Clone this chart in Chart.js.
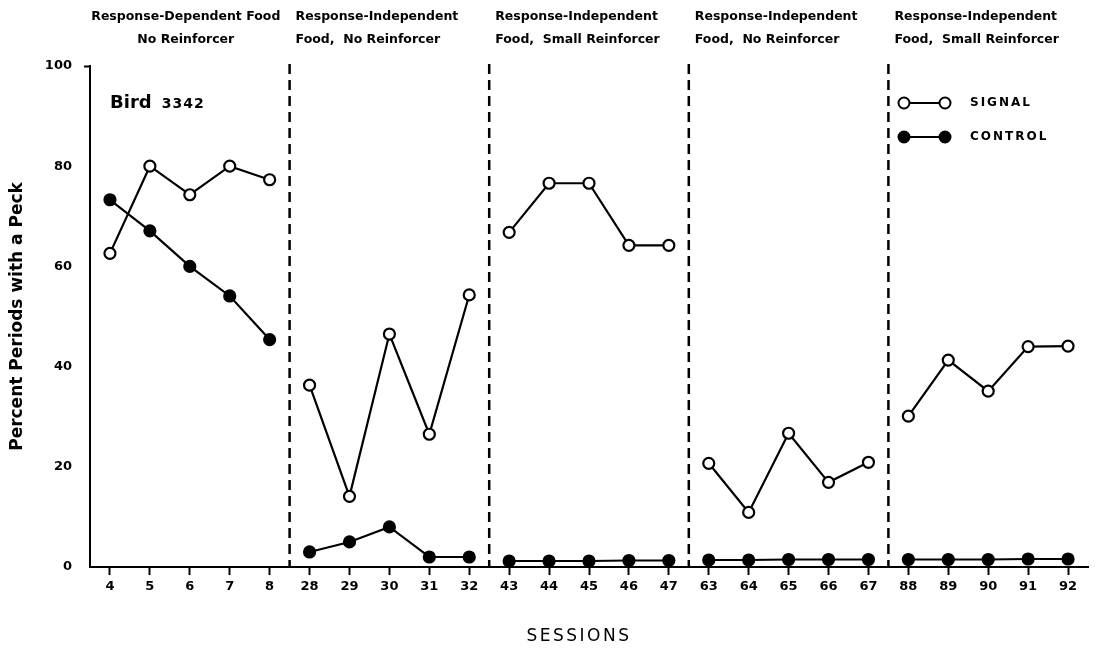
<!DOCTYPE html>
<html>
<head>
<meta charset="utf-8">
<script src="https://cdn.jsdelivr.net/npm/chart.js@4.4.1/dist/chart.umd.min.js"></script>
<style>
    body { margin: 0; background: #fff; }
    canvas { display: block; }
</style>
</head>
<body>
<canvas id="chart" width="1106" height="651"></canvas>
<script>
const sessions = ['4', '5', '6', '7', '8', '28', '29', '30', '31', '32', '43', '44', '45', '46', '47',
    '63', '64', '65', '66', '67', '88', '89', '90', '91', '92'];
const signalValues = [62.6, 80, 74.3, 80, 77.3, 36.3, 14.1, 46.5, 26.5, 54.3, 66.8, 76.6, 76.6, 64.2, 64.2,
    20.7, 10.9, 26.7, 16.9, 20.9, 30.1, 41.3, 35.1, 44, 44.1];
const controlValues = [73.3, 67.1, 60, 54.1, 45.4, 3, 5, 8, 2, 2, 1.2, 1.2, 1.2, 1.3, 1.3,
    1.4, 1.4, 1.5, 1.5, 1.5, 1.5, 1.5, 1.5, 1.6, 1.6];
const yTicks = [0, 20, 40, 60, 80, 100];
const groupSize = 5;
const phaseLine1 = ['Response-Dependent Food', 'Response-Independent', 'Response-Independent', 'Response-Independent', 'Response-Independent'];
const phaseLine2 = ['No Reinforcer', 'Food,  No Reinforcer', 'Food,  Small Reinforcer', 'Food,  No Reinforcer', 'Food,  Small Reinforcer'];
const seriesNames = ['SIGNAL', 'CONTROL'];
const birdName = 'Bird';
const birdNumber = '3342';
const xTitle = 'SESSIONS';

const FONT = '"DejaVu Sans", "Liberation Sans", sans-serif';

// no line between the last session of a phase and the first of the next
const breakAtPhase = ctx => (ctx.p0DataIndex % groupSize === groupSize - 1) ? 'rgba(0,0,0,0)' : undefined;

function separatorX(xScale, i) {
    return (xScale.getPixelForValue(i) + xScale.getPixelForValue(i + 1)) / 2;
}

const phasePlugin = {
    id: 'phases',
    beforeDatasetsDraw(chart) {
        const { ctx, chartArea, scales } = chart;
        ctx.save();
        ctx.strokeStyle = '#000';
        ctx.lineWidth = 2.5;
        ctx.setLineDash([10, 6]);
        for (let g = 1; g < phaseLine1.length; g++) {
            const x = separatorX(scales.x, g * groupSize - 1);
            ctx.beginPath();
            ctx.moveTo(x, chartArea.top - 2);
            ctx.lineTo(x, chartArea.bottom);
            ctx.stroke();
        }
        ctx.restore();
    },
    afterDraw(chart) {
        const { ctx, chartArea, scales } = chart;
        ctx.save();
        ctx.fillStyle = '#000';
        ctx.textBaseline = 'middle';
        ctx.font = 'bold 12.5px ' + FONT;
        phaseLine1.forEach((text, g) => {
            if (g === 0) {
                const cx = scales.x.getPixelForValue(2) - 4;
                ctx.textAlign = 'center';
                ctx.fillText(text, cx, 17);
                ctx.fillText(phaseLine2[g], cx, 40);
            } else {
                const x = separatorX(scales.x, g * groupSize - 1) + 6;
                ctx.textAlign = 'left';
                ctx.fillText(text, x, 17);
                ctx.fillText(phaseLine2[g], x, 40);
            }
        });

        // bird label
        ctx.textAlign = 'left';
        ctx.font = 'bold 18px ' + FONT;
        ctx.fillText(birdName, chartArea.left + 20, 103);
        const w = ctx.measureText(birdName).width + 10;
        ctx.font = 'bold 14px ' + FONT;
        ctx.letterSpacing = '1px';
        ctx.fillText(birdNumber, chartArea.left + 20 + w, 104);
        ctx.letterSpacing = '0px';

        // legend
        chart.data.datasets.forEach((ds, i) => {
            const y = 103 + i * 34;
            const x0 = chartArea.right - 184;
            const x1 = chartArea.right - 143;
            ctx.strokeStyle = '#000';
            ctx.lineWidth = 2;
            ctx.beginPath();
            ctx.moveTo(x0, y);
            ctx.lineTo(x1, y);
            ctx.stroke();
            [x0, x1].forEach(x => {
                ctx.beginPath();
                ctx.arc(x, y, ds.pointRadius, 0, Math.PI * 2);
                ctx.fillStyle = ds.pointBackgroundColor;
                ctx.fill();
                ctx.stroke();
            });
            ctx.fillStyle = '#000';
            ctx.font = 'bold 12px ' + FONT;
            ctx.letterSpacing = '2px';
            ctx.fillText(seriesNames[i], chartArea.right - 118, y);
            ctx.letterSpacing = '0px';
        });

        // x axis title
        ctx.textAlign = 'center';
        ctx.font = '17px ' + FONT;
        ctx.letterSpacing = '2.5px';
        ctx.fillText(xTitle, (chartArea.left + chartArea.right) / 2 - 10, 637);
        ctx.restore();
    }
};

new Chart(document.getElementById('chart'), {
    type: 'line',
    data: {
        labels: sessions,
        datasets: [{
            label: seriesNames[0],
            data: signalValues,
            borderColor: '#000',
            borderWidth: 2.2,
            pointRadius: 5.5,
            pointBorderWidth: 2.2,
            pointBackgroundColor: '#fff',
            pointBorderColor: '#000',
            segment: { borderColor: breakAtPhase }
        }, {
            label: seriesNames[1],
            data: controlValues,
            borderColor: '#000',
            borderWidth: 2.2,
            pointRadius: 5.5,
            pointBorderWidth: 2.2,
            pointBackgroundColor: '#000',
            pointBorderColor: '#000',
            segment: { borderColor: breakAtPhase }
        }]
    },
    options: {
        responsive: false,
        animation: false,
        layout: { padding: { left: 0, right: 18, top: 66, bottom: 0 } },
        plugins: {
            legend: { display: false },
            tooltip: { enabled: false }
        },
        scales: {
            x: {
                offset: true,
                afterFit: s => { s.height = 84; },
                border: { display: true, color: '#000', width: 2 },
                grid: {
                    drawOnChartArea: false,
                    drawTicks: true,
                    tickLength: 8,
                    tickWidth: 2,
                    tickColor: '#000',
                    offset: false
                },
                ticks: {
                    color: '#000',
                    padding: 4,
                    maxRotation: 0,
                    autoSkip: false,
                    font: { family: FONT, size: 13, weight: 'bold' }
                },
                title: { display: false }
            },
            y: {
                min: 0,
                max: 100,
                afterFit: s => { s.width = 90; },
                afterBuildTicks: s => { s.ticks = yTicks.map(v => ({ value: v })); },
                border: { display: true, color: '#000', width: 2 },
                grid: {
                    drawOnChartArea: false,
                    drawTicks: true,
                    tickLength: 6,
                    tickWidth: 2,
                    tickColor: c => c.tick && c.tick.value === 100 ? '#000' : 'rgba(0,0,0,0)'
                },
                ticks: {
                    color: '#000',
                    padding: 12,
                    font: { family: FONT, size: 13, weight: 'bold' }
                },
                title: {
                    display: true,
                    text: 'Percent Periods with a Peck',
                    color: '#000',
                    padding: { top: 7, bottom: 7 },
                    font: { family: FONT, size: 17, weight: 'bold' }
                }
            }
        }
    },
    plugins: [phasePlugin]
});
</script>
</body>
</html>
